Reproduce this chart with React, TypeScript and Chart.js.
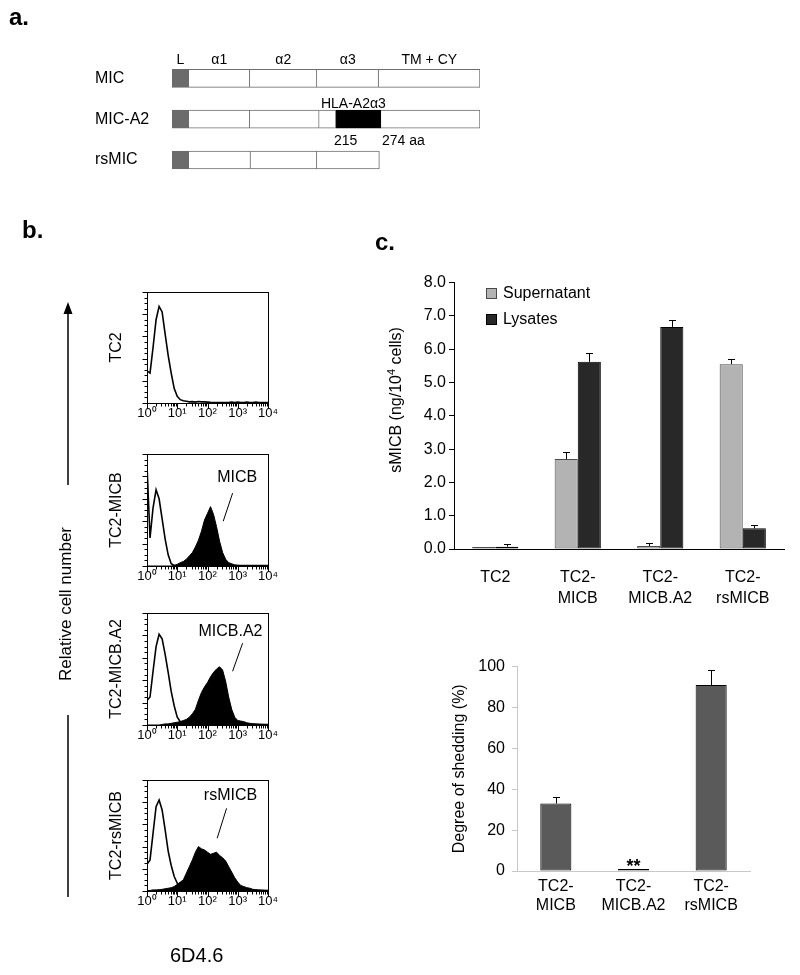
import React, { useEffect, useRef } from "react";
import { Chart, registerables } from "chart.js";

Chart.register(...registerables);

const FONT = "'Liberation Sans', Arial, Helvetica, sans-serif";
Chart.defaults.font.family = FONT;
Chart.defaults.color = "#000";

// ---------- Panel a: domain structure ----------
const DOMAIN_ROWS = ["MIC", "MIC-A2", "rsMIC"];
const DOMAIN_NAMES = ["L", "α1", "α2", "α3", "TM + CY"];
const SEG_LEADER = [[0, 22], [0, 22], [0, 22]];
const SEG_A1 = [[22, 102], [22, 102], [22, 103]];
const SEG_A2 = [[102, 190], [102, 193], [103, 190]];
const SEG_A3 = [[190, 271], [193, 215], [190, 272]];
const SEG_HLA = [null, [215, 274], null];
const SEG_TM = [[271, 404], [274, 404], null];
const HLA_LABEL = "HLA-A2α3";
const HLA_START_LABEL = "215";
const HLA_END_LABEL = "274 aa";

// ---------- Panel b: flow histograms (log10 fluorescence bins, % of max) ----------
const LOG_BINS = [0, 0.1, 0.2, 0.3, 0.4, 0.5, 0.6, 0.7, 0.8, 0.9, 1, 1.1, 1.2, 1.3, 1.4, 1.5, 1.6, 1.7, 1.8, 1.9, 2, 2.1, 2.2, 2.3, 2.4, 2.5, 2.6, 2.7, 2.8, 2.9, 3, 3.1, 3.2, 3.3, 3.4, 3.5, 3.6, 3.7, 3.8, 3.9, 4];
const DECADES = [0, 1, 2, 3, 4];
const DECADE_LABELS = ["10⁰", "10¹", "10²", "10³", "10⁴"];

const TC2_CONTROL = [29, 27, 50, 75, 87, 82, 62, 43, 27, 13, 6, 3, 2, 1.5, 1, 1.2, 0.8, 1.4, 1, 1, 0.8, 0.6, 0.5, 0.5, 0.4, 0.5, 0.4, 0.4, 0.8, 0.5, 0.9, 0.4, 0.5, 0.9, 0.4, 0.5, 0.8, 0.4, 0.3, 0.3, 0.3];
const MICB_CONTROL = [90, 25, 52, 68, 60, 42, 24, 10, 2, 0.5, 0.3, 0.3, 0.3, 0.3, 0.3, 0.3, 0.3, 0.3, 0.3, 0.3, 0.3, 0.3, 0.3, 0.3, 0.3, 0.3, 0.3, 0.3, 0.3, 0.3, 0.3, 0.3, 0.3, 0.3, 0.3, 0.3, 0.3, 0.3, 0.3, 0.3, 0.3];
const MICB_STAINED = [0, 0, 0, 0, 0, 0, 0, 0, 0, 0.5, 1.5, 3, 4, 6, 9, 12, 17, 23, 31, 41, 47, 53, 46, 35, 22, 12, 6, 3, 2, 1, 0.6, 0.4, 0.3, 0.3, 0.3, 0.3, 0.3, 0.3, 0.3, 0.3, 0.3];
const A2_CONTROL = [22, 25, 48, 70, 81, 77, 63, 47, 30, 17, 7, 3, 1, 0.5, 0.3, 0.3, 0.3, 0.3, 0.3, 0.3, 0.3, 0.3, 0.3, 0.3, 0.3, 0.3, 0.3, 0.3, 0.3, 0.3, 0.3, 0.3, 0.3, 0.3, 0.3, 0.3, 0.3, 0.3, 0.3, 0.3, 0.3];
const A2_STAINED = [0, 0, 0, 0, 0, 0.5, 1, 1, 1.5, 2, 2.5, 3, 4, 5, 7, 10, 14, 22, 29, 34, 38, 43, 47, 50, 52, 49, 39, 25, 14, 7, 4, 3.5, 3, 2, 1.5, 1.2, 1, 0.8, 0.6, 0.5, 0.5];
const RS_CONTROL = [24, 28, 52, 76, 82, 73, 55, 36, 23, 13, 7, 3, 1.5, 1, 0.5, 0.3, 0.3, 0.3, 0.3, 0.3, 0.3, 0.3, 0.3, 0.3, 0.3, 0.3, 0.3, 0.3, 0.3, 0.3, 0.3, 0.3, 0.3, 0.3, 0.3, 0.3, 0.3, 0.3, 0.3, 0.3, 0.3];
const RS_STAINED = [0.5, 0.5, 1, 1, 1.2, 1.5, 2, 2.5, 3, 4, 6, 8, 10, 16, 22, 28, 35, 40, 38, 37, 35, 33, 34, 35, 32, 30, 27, 22, 17, 12, 8, 5, 4, 3, 2.5, 1.5, 1.2, 1, 0.8, 0.6, 0.5];

const HIST_TITLES = ["TC2", "TC2-MICB", "TC2-MICB.A2", "TC2-rsMICB"];
const HIST_MARKERS = ["", "MICB", "MICB.A2", "rsMICB"];

// ---------- Panel c ----------
const SMICB_CATS = [["TC2"], ["TC2-", "MICB"], ["TC2-", "MICB.A2"], ["TC2-", "rsMICB"]];
const SERIES_NAMES = ["Supernatant", "Lysates"];
const SUPERNATANT = [0.06, 2.7, 0.09, 5.55];
const SUPERNATANT_ERR = [0, 0.22, 0.08, 0.16];
const LYSATES = [0.07, 5.62, 6.67, 0.62];
const LYSATES_ERR = [0.08, 0.27, 0.21, 0.09];

const SHED_CATS = [["TC2-", "MICB"], ["TC2-", "MICB.A2"], ["TC2-", "rsMICB"]];
const SHEDDING = [33, 1, 91];
const SHEDDING_ERR = [3, 0, 7.5];
const SHEDDING_MARKS = ["", "**", ""];

// ---------- helpers ----------
function ChartBox({ left, top, width, height, make }: any) {
  const ref = useRef<HTMLCanvasElement>(null);
  useEffect(() => {
    const chart = new Chart(ref.current as HTMLCanvasElement, make());
    return () => chart.destroy();
  }, []);
  return (
    <canvas
      ref={ref}
      width={width}
      height={height}
      style={{ position: "absolute", left, top, width, height }}
    />
  );
}

const baseOpts = {
  responsive: false,
  animation: false,
  devicePixelRatio: 1,
  events: [],
};

// ---------- Panel a config ----------
function domainConfig(): any {
  const seg = (data: any, fill: string, border: string, skip: any = "start") => ({
    data,
    backgroundColor: fill,
    borderColor: border,
    borderWidth: 1,
    borderSkipped: skip,
    barThickness: 18,
    grouped: false,
  });
  const labelsPlugin = {
    id: "domainLabels",
    afterDraw(chart: any) {
      const { ctx, scales } = chart;
      const x = scales.x;
      const y = scales.y;
      ctx.save();
      ctx.fillStyle = "#000";
      ctx.font = `14px ${FONT}`;
      ctx.textAlign = "center";
      ctx.textBaseline = "middle";
      const row0 = y.getPixelForValue(0);
      const mic = [SEG_LEADER[0], SEG_A1[0], SEG_A2[0], SEG_A3[0], SEG_TM[0]] as number[][];
      mic.forEach((s, i) => {
        ctx.fillText(DOMAIN_NAMES[i], x.getPixelForValue((s[0] + s[1]) / 2), row0 - 18);
      });
      const row1 = y.getPixelForValue(1);
      const hla = SEG_HLA[1] as number[];
      ctx.fillText(HLA_LABEL, x.getPixelForValue((hla[0] + hla[1]) / 2) - 5, row1 - 15);
      ctx.textAlign = "left";
      ctx.fillText(HLA_START_LABEL, x.getPixelForValue(hla[0]) - 2, row1 + 22);
      ctx.fillText(HLA_END_LABEL, x.getPixelForValue(hla[1]) + 1, row1 + 22);
      ctx.restore();
    },
  };
  return {
    type: "bar",
    data: {
      labels: DOMAIN_ROWS,
      datasets: [
        seg(SEG_LEADER, "#6b6b6b", "#6b6b6b", false),
        seg(SEG_A1, "#ffffff", "#6e6e6e"),
        seg(SEG_A2, "#ffffff", "#6e6e6e"),
        seg(SEG_A3, "#ffffff", "#6e6e6e"),
        seg(SEG_HLA, "#000000", "#000000"),
        seg(SEG_TM, "#ffffff", "#6e6e6e"),
      ],
    },
    options: {
      ...baseOpts,
      indexAxis: "y",
      layout: { padding: { top: 18, right: 15, bottom: 6, left: 0 } },
      plugins: { legend: { display: false }, tooltip: { enabled: false } },
      scales: {
        x: { type: "linear", min: 0, max: 404, display: false },
        y: {
          grid: { display: false, drawTicks: false },
          border: { display: false },
          ticks: { crossAlign: "far", font: { size: 16 }, color: "#000", padding: 0 },
          afterFit: (s: any) => {
            s.width = 77;
          },
        },
      },
    },
    plugins: [labelsPlugin],
  };
}

// ---------- Panel b config ----------
function histConfig(idx: number, control: number[], stained: number[] | null, marker: any): any {
  const toXY = (vals: number[]) => LOG_BINS.map((x, i) => ({ x, y: vals[i] }));
  const datasets: any[] = [
    {
      data: toXY(control),
      fill: false,
      borderColor: "#000",
      borderWidth: 1.6,
      pointRadius: 0,
      tension: 0,
    },
  ];
  if (stained) {
    datasets.push({
      data: toXY(stained),
      fill: "origin",
      backgroundColor: "#000",
      borderColor: "#000",
      borderWidth: 1,
      pointRadius: 0,
      tension: 0,
    });
  }
  const decor = {
    id: "histDecor",
    afterDatasetsDraw(chart: any) {
      const { ctx, chartArea: a, scales } = chart;
      const x = scales.x;
      const y = scales.y;
      ctx.save();
      ctx.strokeStyle = "#000";
      ctx.lineWidth = 1;
      ctx.strokeRect(Math.round(a.left) + 0.5, Math.round(a.top) + 0.5, Math.round(a.right - a.left), Math.round(a.bottom - a.top));
      ctx.beginPath();
      const bottom = Math.round(a.bottom) + 0.5;
      for (let d = 0; d < 4; d++) {
        for (let k = 1; k <= 9; k++) {
          const px = Math.round(x.getPixelForValue(d + Math.log10(k))) + 0.5;
          const len = k === 1 ? 5 : 3;
          ctx.moveTo(px, bottom);
          ctx.lineTo(px, bottom + len);
        }
      }
      const p4 = Math.round(x.getPixelForValue(4)) + 0.5;
      ctx.moveTo(p4, bottom);
      ctx.lineTo(p4, bottom + 5);
      const left = Math.round(a.left) + 0.5;
      for (let v = 0; v <= 100; v += 5) {
        const py = Math.round(y.getPixelForValue(v)) + 0.5;
        const len = v % 20 === 0 ? 5 : 3;
        ctx.moveTo(left, py);
        ctx.lineTo(left - len, py);
      }
      ctx.stroke();
      if (marker) {
        ctx.fillStyle = "#000";
        ctx.font = `16px ${FONT}`;
        ctx.textAlign = "center";
        ctx.textBaseline = "middle";
        ctx.fillText(marker.text, x.getPixelForValue(marker.at[0]), y.getPixelForValue(marker.at[1]));
        ctx.beginPath();
        ctx.moveTo(x.getPixelForValue(marker.from[0]), y.getPixelForValue(marker.from[1]));
        ctx.lineTo(x.getPixelForValue(marker.to[0]), y.getPixelForValue(marker.to[1]));
        ctx.stroke();
      }
      ctx.restore();
    },
  };
  return {
    type: "line",
    data: { datasets },
    options: {
      ...baseOpts,
      layout: { padding: { top: 10, right: 16, left: 0, bottom: 0 } },
      plugins: { legend: { display: false }, tooltip: { enabled: false } },
      scales: {
        x: {
          type: "linear",
          min: 0,
          max: 4,
          afterBuildTicks: (s: any) => {
            s.ticks = DECADES.map((v) => ({ value: v }));
          },
          ticks: {
            callback: (v: any) => DECADE_LABELS[DECADES.indexOf(v)],
            font: { size: 13 },
            color: "#000",
            padding: 3,
            maxRotation: 0,
            autoSkip: false,
          },
          grid: { display: false, drawTicks: false },
          border: { display: false },
          afterFit: (s: any) => {
            s.height = 22;
          },
        },
        y: {
          min: 0,
          max: 100,
          ticks: { display: false },
          grid: { display: false, drawTicks: false },
          border: { display: false },
          title: {
            display: true,
            text: HIST_TITLES[idx],
            font: { size: 16 },
            color: "#000",
            padding: { top: 12, bottom: 0 },
          },
          afterFit: (s: any) => {
            s.width = 52;
          },
        },
      },
    },
    plugins: [decor],
  };
}

// ---------- Panel c configs ----------
function errorBars(errs: number[][], cap: number) {
  return {
    id: "errorBars",
    afterDatasetsDraw(chart: any) {
      const { ctx } = chart;
      const y = chart.scales.y;
      ctx.save();
      ctx.strokeStyle = "#000";
      ctx.lineWidth = 1;
      chart.data.datasets.forEach((ds: any, di: number) => {
        const e = errs[di];
        if (!e) return;
        const meta = chart.getDatasetMeta(di);
        meta.data.forEach((bar: any, i: number) => {
          const err = e[i];
          if (!err) return;
          const top = Math.round(y.getPixelForValue(ds.data[i] + err)) + 0.5;
          const xx = Math.round(bar.x) + 0.5;
          ctx.beginPath();
          ctx.moveTo(xx, bar.y);
          ctx.lineTo(xx, top);
          ctx.moveTo(xx - cap / 2, top);
          ctx.lineTo(xx + cap / 2, top);
          ctx.stroke();
        });
      });
      ctx.restore();
    },
  };
}

function smicbConfig(): any {
  const legend = {
    id: "boxLegend",
    afterDraw(chart: any) {
      const { ctx, chartArea: a } = chart;
      ctx.save();
      ctx.font = `16px ${FONT}`;
      ctx.textBaseline = "middle";
      ctx.textAlign = "left";
      chart.data.datasets.forEach((ds: any, i: number) => {
        const bx = Math.round(a.left) + 32;
        const by = Math.round(a.top) + 5 + i * 26;
        ctx.fillStyle = ds.borderColor;
        ctx.fillRect(bx, by, 11, 11);
        ctx.fillStyle = ds.backgroundColor;
        ctx.fillRect(bx + 1, by + 1, 9, 9);
        ctx.fillStyle = "#000";
        ctx.fillText(ds.label, bx + 17, by + 6);
      });
      ctx.restore();
    },
  };
  return {
    type: "bar",
    data: {
      labels: SMICB_CATS,
      datasets: [
        { label: SERIES_NAMES[0], data: SUPERNATANT, backgroundColor: "#b3b3b3", borderColor: "#4a4a4a", borderWidth: 1, borderSkipped: false },
        { label: SERIES_NAMES[1], data: LYSATES, backgroundColor: "#282828", borderColor: "#000000", borderWidth: 1, borderSkipped: false },
      ],
    },
    options: {
      ...baseOpts,
      datasets: { bar: { categoryPercentage: 0.56, barPercentage: 1 } },
      layout: { padding: { top: 12, right: 6, left: 0, bottom: 0 } },
      plugins: { legend: { display: false }, tooltip: { enabled: false } },
      scales: {
        x: {
          grid: { display: false, drawTicks: false },
          border: { color: "#000", width: 1 },
          ticks: { font: { size: 16, lineHeight: 1.3 }, color: "#000", padding: 18, maxRotation: 0, autoSkip: false },
          afterFit: (s: any) => {
            s.height = 61;
          },
        },
        y: {
          min: 0,
          max: 8,
          ticks: { stepSize: 1, callback: (v: any) => Number(v).toFixed(1), font: { size: 16 }, color: "#000", padding: 3 },
          grid: { display: true, drawOnChartArea: false, drawTicks: true, tickLength: 5, color: "#000" },
          border: { color: "#000", width: 1 },
          afterFit: (s: any) => {
            s.width = 84;
          },
        },
      },
    },
    plugins: [errorBars([SUPERNATANT_ERR, LYSATES_ERR], 7), legend],
  };
}

function sheddingConfig(): any {
  const marks = {
    id: "sigMarks",
    afterDatasetsDraw(chart: any) {
      const { ctx } = chart;
      const meta = chart.getDatasetMeta(0);
      ctx.save();
      ctx.fillStyle = "#000";
      ctx.font = `bold 18px ${FONT}`;
      ctx.textAlign = "center";
      ctx.textBaseline = "alphabetic";
      meta.data.forEach((bar: any, i: number) => {
        if (SHEDDING_MARKS[i]) ctx.fillText(SHEDDING_MARKS[i], bar.x, bar.y + 3);
      });
      ctx.restore();
    },
  };
  return {
    type: "bar",
    data: {
      labels: SHED_CATS,
      datasets: [
        {
          data: SHEDDING,
          backgroundColor: "#5a5a5a",
          borderColor: "#000",
          borderWidth: 1,
          borderSkipped: false,
          categoryPercentage: 1,
          barPercentage: 0.4,
        },
      ],
    },
    options: {
      ...baseOpts,
      layout: { padding: { top: 15, right: 40, left: 0, bottom: 0 } },
      plugins: { legend: { display: false }, tooltip: { enabled: false } },
      scales: {
        x: {
          grid: { display: false, drawTicks: false },
          border: { color: "#c8c8c8", width: 1 },
          ticks: { font: { size: 16, lineHeight: 1.2 }, color: "#000", padding: 6, maxRotation: 0, autoSkip: false },
          afterFit: (s: any) => {
            s.height = 54;
          },
        },
        y: {
          min: 0,
          max: 100,
          ticks: { stepSize: 20, font: { size: 16 }, color: "#000", padding: 7 },
          grid: { display: true, drawOnChartArea: false, drawTicks: true, tickLength: 5, color: "#c8c8c8" },
          border: { color: "#c8c8c8", width: 1 },
          title: {
            display: true,
            text: "Degree of shedding (%)",
            font: { size: 16 },
            color: "#000",
            padding: { top: 80, bottom: 0 },
          },
          afterFit: (s: any) => {
            s.width = 147;
          },
        },
      },
    },
    plugins: [errorBars([SHEDDING_ERR], 7), marks],
  };
}

const HIST_LAYOUT = [
  { top: 282, height: 143 },
  { top: 444, height: 144 },
  { top: 603, height: 144 },
  { top: 770, height: 143 },
];

const HIST_SERIES: [number[], number[] | null][] = [
  [TC2_CONTROL, null],
  [MICB_CONTROL, MICB_STAINED],
  [A2_CONTROL, A2_STAINED],
  [RS_CONTROL, RS_STAINED],
];

const MARKER_PLACES = [
  null,
  { at: [2.98, 79], from: [2.83, 65], to: [2.52, 40] },
  { at: [2.76, 83], from: [3.16, 73], to: [2.83, 48] },
  { at: [2.76, 86], from: [2.63, 74.5], to: [2.32, 47.5] },
];

export default function App() {
  return (
    <div style={{ position: "absolute", left: 0, top: 0, width: 800, height: 975, background: "#fff", overflow: "hidden" }}>
      <ChartBox left={95} top={40} width={400} height={150} make={domainConfig} />
      {HIST_LAYOUT.map((l, i) => (
        <ChartBox
          key={i}
          left={95}
          top={l.top}
          width={189}
          height={l.height}
          make={() =>
            histConfig(
              i,
              HIST_SERIES[i][0],
              HIST_SERIES[i][1],
              MARKER_PLACES[i] ? { text: HIST_MARKERS[i], ...MARKER_PLACES[i] } : null
            )
          }
        />
      ))}
      <ChartBox left={370} top={270} width={420} height={340} make={smicbConfig} />
      <ChartBox left={370} top={650} width={420} height={275} make={sheddingConfig} />
      <svg width={800} height={975} style={{ position: "absolute", left: 0, top: 0, pointerEvents: "none" }} fontFamily={FONT}>
        <text x={9} y={25} fontSize={24} fontWeight="bold">a.</text>
        <text x={22} y={238} fontSize={24} fontWeight="bold">b.</text>
        <text x={375} y={250} fontSize={24} fontWeight="bold">c.</text>
        <line x1={68} y1={310} x2={68} y2={485} stroke="#000" strokeWidth={1.5} />
        <polygon points="68,302 63.5,314 72.5,314" fill="#000" />
        <line x1={68} y1={715} x2={68} y2={897} stroke="#000" strokeWidth={1.5} />
        <text transform="translate(70.5,604) rotate(-90)" textAnchor="middle" fontSize={17}>Relative cell number</text>
        <text x={170} y={962} fontSize={20}>6D4.6</text>
        <text transform="translate(401,400) rotate(-90)" textAnchor="middle" fontSize={16}>
          sMICB (ng/10<tspan dy={-6} fontSize={11}>4</tspan><tspan dy={6}> cells)</tspan>
        </text>
      </svg>
    </div>
  );
}
